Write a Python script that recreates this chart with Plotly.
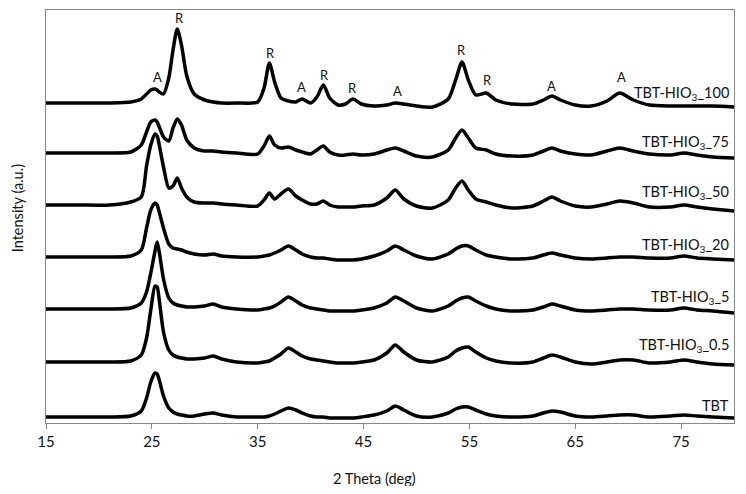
import plotly.graph_objects as go

# 2-theta sampling positions (deg)
two_theta = [15, 18, 21, 23, 24,
             24.5, 24.9, 25.3, 25.5, 25.7, 26.1,
             26.6, 27.0, 27.4, 27.8, 28.3,
             29, 30, 30.8, 31.6, 33,
             35, 35.6, 36.1, 36.6, 37.2,
             37.9, 38.6, 39.2, 40, 40.6,
             41.2, 41.8, 42.6, 43.3, 44,
             44.8, 46, 47.2, 48, 48.8,
             50, 51.5, 53, 53.7, 54.3,
             54.9, 55.6, 56.6, 57.5, 59,
             61, 62, 62.8, 63.6, 65,
             66.5, 68, 69.2, 70.5, 72,
             74, 75.3, 76.5, 78, 80]

# intensities (a.u.) relative to each pattern's own baseline
int_TBT = [0, 0, 0, 1, 6, 19, 35, 44, 43, 37, 21, 9, 5, 3, 2, 1, 1, 3, 4, 2, 0,
           0, 0, 1, 3, 6, 9, 7, 4, 1, 0, 0, -1, -1, -1, -1, 0, 2, 6, 11, 7,
           1, 0, 4, 8, 10, 10, 7, 3, 1, 0, 1, 4, 6, 5, 1, 0, 1, 2, 2, 0, 1, 2, 1, 0, -1]
int_05 = [0, 0, 0, 1, 7, 24, 52, 76, 75, 62, 30, 12, 7, 5, 4, 3, 3, 4, 6, 3, 0,
          -1, 0, 1, 4, 8, 14, 10, 6, 3, 2, 1, 0, -1, -1, -1, 0, 2, 9, 17, 10,
          2, 0, 5, 11, 14, 15, 10, 4, 1, -1, 0, 4, 7, 5, 0, -2, 0, 2, 2, -1, 0, 2, 0, -2, -3]
int_5 = [0, 0, 0, 1, 6, 17, 36, 58, 67, 57, 30, 11, 6, 4, 3, 2, 2, 3, 5, 2, 0,
         -1, 0, 1, 3, 7, 12, 8, 4, 1, 0, -1, -2, -2, -2, -2, -1, 1, 6, 12, 8,
         1, -2, 3, 8, 11, 12, 8, 3, 0, -2, -1, 2, 5, 3, -1, -2, -1, 0, 0, -1, -1, 1, -1, -2, -4]
int_20 = [0, 0, 0, 1, 7, 29, 47, 54, 52, 45, 29, 13, 9, 8, 7, 5, 3, 2, 3, 1, 0,
          0, 1, 2, 4, 7, 11, 7, 3, 0, -1, -1, -2, -3, -3, -3, -2, 1, 6, 11, 7,
          1, -2, 3, 8, 11, 11, 7, 2, 0, -2, -1, 2, 4, 2, -1, -2, -1, 0, 0, -1, -1, 1, -1, -2, -3]
int_50 = [0, 0, 0, 3, 8, 39, 60, 71, 69, 60, 38, 17, 19, 27, 17, 8, 3, 2, 2, 1, 0,
          -1, 5, 12, 6, 11, 16, 9, 5, 1, 1, 4, 0, -2, -2, -2, -1, 0, 7, 15, 6,
          -1, -3, 5, 17, 24, 15, 6, 3, 0, -3, -1, 4, 8, 4, -1, -2, 1, 4, 2, -2, -2, 0, -2, -4, -6]
int_75 = [0, 0, 0, 1, 8, 21, 31, 33, 31, 26, 16, 12, 25, 34, 28, 13, 5, 2, 2, 1, 0,
          -1, 7, 17, 8, 5, 6, 3, 1, -1, 3, 7, 1, -2, -2, -1, -2, -1, 3, 5, 2,
          -3, -4, 3, 15, 23, 15, 5, 3, -1, -3, -2, 2, 5, 2, -1, -2, 2, 5, 2, -1, -2, 0, -2, -4, -5]
int_100 = [0, 0, 0, 1, 4, 9, 13, 14, 13, 11, 9, 25, 53, 74, 58, 27, 9, 3, 1, 0, 0,
           1, 15, 40, 21, 5, 2, 1, 4, 0, 6, 18, 5, -2, -1, 4, -1, -3, -2, 0, -1,
           -3, -4, 4, 23, 41, 23, 8, 10, 3, -1, -1, 3, 7, 3, -2, -3, 2, 10, 3, -2, -3, -3, -3, -3, -4]

series = [int_TBT, int_05, int_5, int_20, int_50, int_75, int_100]
offsets = [6, 61, 114, 166, 218, 270, 320]
sample_names = ["TBT", "TBT-HIO<sub>3</sub>_0.5", "TBT-HIO<sub>3</sub>_5", "TBT-HIO<sub>3</sub>_20",
                "TBT-HIO<sub>3</sub>_50", "TBT-HIO<sub>3</sub>_75", "TBT-HIO<sub>3</sub>_100"]
name_label_y = [18, 78, 126, 178, 231, 281, 330]

# phase markers above the top pattern
peak_text = ["A", "R", "R", "A", "R", "R", "A", "R", "R", "A", "A"]
peak_x = [25.5, 27.6, 36.2, 39.1, 41.3, 44.0, 48.2, 54.3, 56.7, 62.8, 69.4]
peak_y = [346, 405, 370, 336, 348, 335, 332, 373, 343, 337, 346]

FONT = "Lato"
fig = go.Figure()
for vals, off in zip(series, offsets):
    fig.add_trace(go.Scatter(
        x=two_theta, y=[v + off for v in vals], mode="lines",
        line=dict(color="black", width=3.5, shape="spline", smoothing=0.7),
        showlegend=False, hoverinfo="skip"))

annotations = []
for name, ly in zip(sample_names, name_label_y):
    annotations.append(dict(x=1, xref="paper", y=ly, yref="y", text=name,
                            xanchor="right", yanchor="middle", xshift=-3,
                            showarrow=False, font=dict(family=FONT, size=14.5, color="#111")))
for t, px, py in zip(peak_text, peak_x, peak_y):
    annotations.append(dict(x=px, y=py, xref="x", yref="y", text=t, showarrow=False,
                            xanchor="center", yanchor="middle",
                            font=dict(family=FONT, size=13, color="#111")))
annotations.append(dict(x=0.478, y=0, xref="paper", yref="paper", text="2 Theta (deg)",
                        showarrow=False, yshift=-55, xanchor="center", yanchor="middle",
                        font=dict(family=FONT, size=14.5, color="#111")))
annotations.append(dict(x=0, y=0.52, xref="paper", yref="paper", text="Intensity (a.u.)",
                        showarrow=False, xshift=-29, textangle=-90, xanchor="center",
                        yanchor="middle", font=dict(family=FONT, size=14.5, color="#111")))

# the page body keeps an 8px default margin, so the figure is 16px smaller than the window
fig.update_layout(
    width=730, height=478,
    margin=dict(l=38, r=4, t=2, b=63),
    paper_bgcolor="white", plot_bgcolor="white",
    annotations=annotations,
    xaxis=dict(range=[15, 80], tick0=15, dtick=10, ticks="outside", ticklen=5,
               tickcolor="#888", showline=True, linecolor="#888", linewidth=1.3,
               mirror=True, showgrid=False, zeroline=False,
               tickfont=dict(family=FONT, size=15, color="#111")),
    yaxis=dict(range=[0, 413], showticklabels=False, ticks="", showline=True,
               linecolor="#888", linewidth=1.3, mirror=True, showgrid=False, zeroline=False),
)
fig.write_html("out.html")
